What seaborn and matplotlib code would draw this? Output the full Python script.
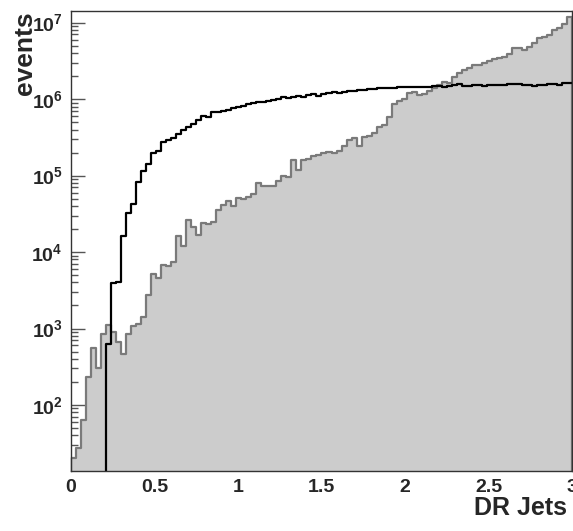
"""DR between jets: filled reference histogram with a black overlay, log y."""

import numpy as np
import pandas as pd
import seaborn as sns
import matplotlib

matplotlib.use("Agg")
from matplotlib import pyplot as plt
from matplotlib.ticker import FuncFormatter, LogLocator, MultipleLocator, NullFormatter

# 100 bins from 0 to 3
bin_edges = [round(0.03 * i, 2) for i in range(101)]
bin_centers = [0.5 * (lo + hi) for lo, hi in zip(bin_edges[:-1], bin_edges[1:])]

# grey filled histogram (events per bin)
gray_counts = [
    20, 27, 63, 235, 560, 300, 840, 1120, 900, 670,
    470, 840, 1070, 1160, 1420, 2730, 5100, 4520, 6800, 6600,
    7450, 16100, 11900, 26100, 21400, 16600, 23700, 23200, 24400, 35300,
    41100, 46800, 40000, 51000, 49700, 52000, 57000, 80000, 74000, 73000,
    74000, 85000, 98500, 97000, 158000, 119000, 162000, 165000, 178000, 187000,
    200000, 202000, 197000, 211000, 245000, 288000, 311000, 245000, 318000, 325000,
    360000, 427000, 457000, 575000, 855000, 945000, 990000, 1.20e6, 1.25e6, 1.12e6,
    1.16e6, 1.28e6, 1.40e6, 1.55e6, 1.69e6, 1.64e6, 1.96e6, 2.17e6, 2.38e6, 2.55e6,
    2.79e6, 2.79e6, 2.99e6, 3.15e6, 3.31e6, 3.48e6, 3.59e6, 3.85e6, 4.62e6, 4.62e6,
    4.40e6, 4.77e6, 5.37e6, 6.25e6, 6.44e6, 6.90e6, 8.00e6, 8.60e6, 9.50e6, 1.20e7,
]

# black overlay histogram
black_counts = [
    0, 0, 0, 0, 0, 0, 0, 630, 3900, 4000,
    16000, 32600, 42400, 81500, 115000, 140000, 195000, 209000, 276000, 290000,
    307000, 349000, 394000, 436000, 472000, 532000, 601000, 577000, 671000, 684000,
    705000, 719000, 757000, 795000, 820000, 855000, 881000, 908000, 915000, 950000,
    970000, 990000, 1.07e6, 1.03e6, 1.06e6, 1.10e6, 1.08e6, 1.12e6, 1.16e6, 1.11e6,
    1.17e6, 1.21e6, 1.24e6, 1.21e6, 1.24e6, 1.27e6, 1.28e6, 1.30e6, 1.33e6, 1.36e6,
    1.34e6, 1.38e6, 1.40e6, 1.40e6, 1.39e6, 1.42e6, 1.43e6, 1.45e6, 1.45e6, 1.46e6,
    1.45e6, 1.46e6, 1.50e6, 1.48e6, 1.45e6, 1.50e6, 1.53e6, 1.58e6, 1.50e6, 1.48e6,
    1.53e6, 1.55e6, 1.50e6, 1.53e6, 1.55e6, 1.55e6, 1.51e6, 1.56e6, 1.56e6, 1.56e6,
    1.53e6, 1.53e6, 1.50e6, 1.53e6, 1.53e6, 1.58e6, 1.56e6, 1.53e6, 1.60e6, 1.60e6,
]

df = pd.DataFrame({"dr": bin_centers, "gray": gray_counts, "black": black_counts})

sns.set_style("ticks")
plt.rcParams["font.family"] = ["Liberation Sans", "DejaVu Sans"]
plt.rcParams["font.weight"] = "bold"
plt.rcParams["mathtext.fontset"] = "custom"
plt.rcParams["mathtext.bf"] = "Liberation Sans:bold"
plt.rcParams["mathtext.rm"] = "Liberation Sans:bold"

fig = plt.figure(figsize=(5.73, 5.31), dpi=100)
ax = fig.add_axes([0.1239, 0.113, 0.8743, 0.8663])

sns.histplot(
    data=df, x="dr", weights="gray", bins=bin_edges, element="step", fill=True,
    facecolor="#cccccc", edgecolor="#7a7a7a", linewidth=1.6, alpha=1, ax=ax,
)
sns.histplot(
    data=df, x="dr", weights="black", bins=bin_edges, element="step", fill=False,
    color="black", linewidth=1.6, ax=ax,
)

ax.set_yscale("log")
ax.set_xlim(0, 3)
ax.set_ylim(13.7, 1.42e7)

ax.xaxis.set_major_locator(MultipleLocator(0.5))
ax.xaxis.set_minor_locator(MultipleLocator(0.1))
ax.xaxis.set_major_formatter(FuncFormatter(lambda v, p: f"{v:g}"))
ax.yaxis.set_major_locator(LogLocator(base=10))
ax.yaxis.set_minor_locator(LogLocator(base=10, subs=np.arange(2, 10)))
ax.yaxis.set_minor_formatter(NullFormatter())
ax.yaxis.set_major_formatter(
    FuncFormatter(lambda v, p: r"$\mathbf{10^{%d}}$" % int(round(np.log10(v))))
)

ax.tick_params(axis="both", which="both", direction="in", color="#555555",
               top=False, right=False, labelsize=14, pad=6)
ax.tick_params(axis="both", which="major", length=10, width=1)
ax.tick_params(axis="both", which="minor", length=5, width=1)
for side in ax.spines.values():
    side.set_color("#333333")
    side.set_linewidth(1)

ax.set_xlabel("DR Jets", fontsize=18, fontweight="bold", loc="right")
ax.xaxis.set_label_coords(0.99, -0.055)
ax.set_ylabel("events", fontsize=19, fontweight="bold", loc="top")
ax.yaxis.set_label_coords(-0.067, 1.0)

fig.savefig("out.png", dpi=100)
